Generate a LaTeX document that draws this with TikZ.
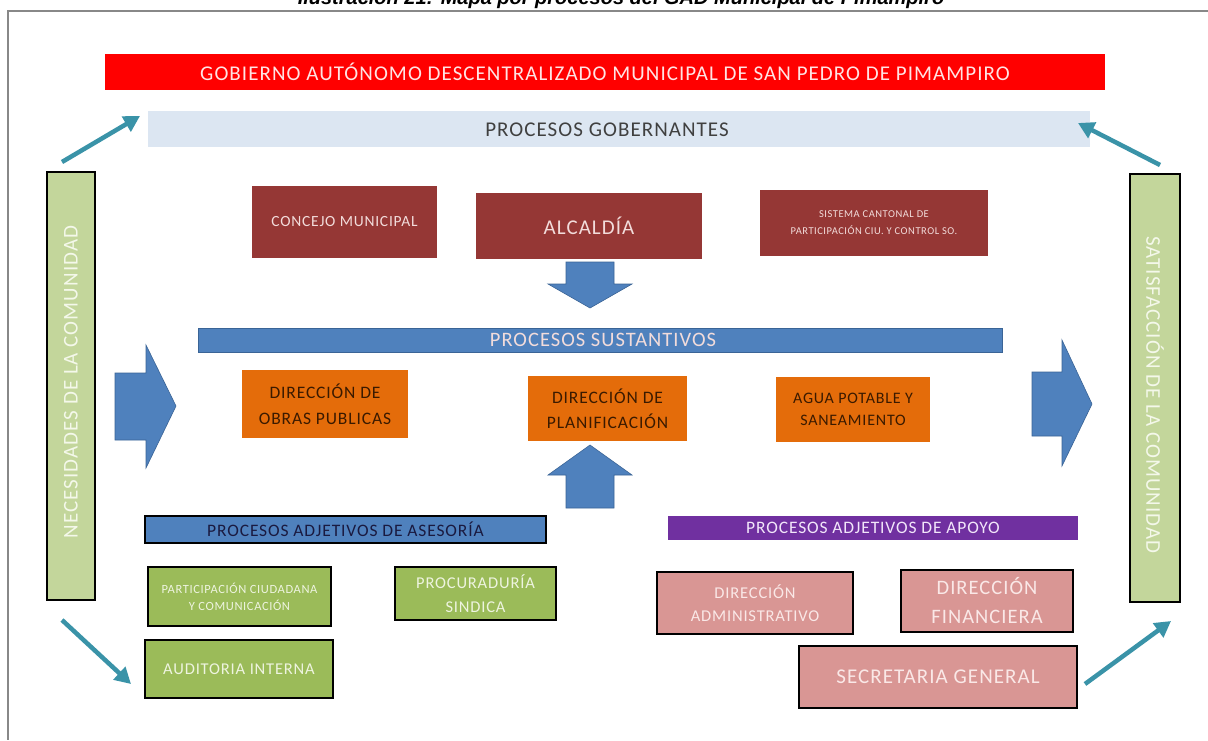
\documentclass[tikz,border=0pt]{standalone}
\usepackage{fontspec}
\setmainfont{Carlito}[LetterSpace=5]
\newfontfamily\titlefont{Liberation Sans}
\usetikzlibrary{arrows.meta}
\definecolor{bannerred}{HTML}{FF0000}
\definecolor{bannertxt}{HTML}{FFE4E4}
\definecolor{gobfill}{HTML}{DCE6F2}
\definecolor{gobtxt}{HTML}{404040}
\definecolor{darkred}{HTML}{953735}
\definecolor{darkredtxt}{HTML}{F2DCDB}
\definecolor{procblue}{HTML}{4F81BD}
\definecolor{procblueline}{HTML}{3A6496}
\definecolor{orangebox}{HTML}{E46C0A}
\definecolor{orangetxt}{HTML}{3A1A00}
\definecolor{greenbox}{HTML}{9BBB59}
\definecolor{greentxt}{HTML}{EEF4E0}
\definecolor{sidegreen}{HTML}{C3D69B}
\definecolor{sidetxt}{HTML}{F4F8EA}
\definecolor{purplebar}{HTML}{7030A0}
\definecolor{purpletxt}{HTML}{F2E6FA}
\definecolor{pinkbox}{HTML}{D99694}
\definecolor{pinktxt}{HTML}{FAE8E7}
\definecolor{teal}{HTML}{3A93A8}
\definecolor{framegray}{HTML}{888888}
\definecolor{navytxt}{HTML}{1A1A40}
\begin{document}
\begin{tikzpicture}[x=1pt,y=-1pt,
  box/.style={inner sep=0pt, align=center},
  redbanner/.style={box, fill=bannerred, text=bannertxt},
  gobbar/.style={box, fill=gobfill, text=gobtxt},
  redbox/.style={box, fill=darkred, text=darkredtxt},
  bluebar/.style={box, fill=procblue, draw=procblueline, line width=1pt, text=darkredtxt},
  orangebx/.style={box, fill=orangebox, text=orangetxt},
  greenbx/.style={box, fill=greenbox, draw=black, line width=1.5pt, text=greentxt},
  sidebar/.style={box, fill=sidegreen, draw=black, line width=1.5pt},
  pinkbx/.style={box, fill=pinkbox, draw=black, line width=1.5pt, text=pinktxt},
  purplebx/.style={box, fill=purplebar, text=purpletxt},
  bigarrow/.style={fill=procblue, draw=procblueline, line width=0.6pt},
  tealarrow/.style={draw=teal, line width=4.5pt, -{Triangle[length=16pt,width=17pt]}},
  framestyle/.style={draw=framegray, line width=2pt}
]
\useasboundingbox (0,0) rectangle (1208,740);
\fill[white] (0,0) rectangle (1208,740);
% caption (cut at the top, as in the reference)
\node[anchor=base, inner sep=0pt, font=\titlefont\bfseries\itshape\fontsize{20}{24}\selectfont] (caption) at (621,4) {Ilustración 21: Mapa por procesos del GAD Municipal de Pimampiro};
% frame
\draw[framestyle] (1208,11) -- (8,11) -- (8,740);

% banner and top bar
\node[redbanner, minimum width=1000pt, minimum height=36pt, font=\fontsize{21}{25}\selectfont] (banner) at (605,72) {GOBIERNO AUTÓNOMO DESCENTRALIZADO MUNICIPAL DE SAN PEDRO DE PIMAMPIRO};
\node[gobbar, minimum width=942pt, minimum height=36pt] (gob) at (619,129) {};
\node[box, text=gobtxt, font=\fontsize{21}{25}\selectfont] (gobtext) at (607,130) {PROCESOS GOBERNANTES};

% side bars
\node[sidebar, minimum width=48pt, minimum height=428pt] (nec) at (71,386) {};
\node[text=sidetxt, rotate=90, font=\fontsize{21}{25}\selectfont] (nectxt) at (71,382) {NECESIDADES DE LA COMUNIDAD};
\node[sidebar, minimum width=50pt, minimum height=428pt] (sat) at (1155,388) {};
\node[text=sidetxt, rotate=-90, font=\fontsize{21}{25}\selectfont] (sattxt) at (1155,395) {SATISFACCIÓN DE LA COMUNIDAD};

% governing boxes
\node[redbox, minimum width=185pt, minimum height=72pt, font=\fontsize{15.5}{18}\selectfont] (concejo) at (344.5,222) {CONCEJO MUNICIPAL};
\node[redbox, minimum width=226pt, minimum height=66pt, font=\fontsize{21}{25}\selectfont] (alcaldia) at (589,226) {ALCALDÍA};
\node[redbox, minimum width=228pt, minimum height=66pt, font=\fontsize{10.5}{17}\selectfont] (sistema) at (874,223) {SISTEMA CANTONAL DE\\PARTICIPACIÓN CIU. Y CONTROL SO.};

% down block arrow
\draw[bigarrow] (566,262) -- (614,262) -- (614,284) -- (632,284) -- (590,308) -- (548,284) -- (566,284) -- cycle;

% substantive
\node[bluebar, minimum width=804pt, minimum height=24pt] (sust) at (600,340) {};
\node[box, text=darkredtxt, font=\fontsize{20.5}{24}\selectfont] (susttext) at (603,340) {PROCESOS SUSTANTIVOS};
\node[orangebx, minimum width=166pt, minimum height=68pt, font=\fontsize{17.5}{26}\selectfont] (obras) at (325,404) {DIRECCIÓN DE\\OBRAS PUBLICAS};
\node[orangebx, minimum width=159pt, minimum height=65pt, font=\fontsize{17.5}{25}\selectfont] (planif) at (607.5,408.5) {DIRECCIÓN DE\\PLANIFICACIÓN};
\node[orangebx, minimum width=154pt, minimum height=65pt, font=\fontsize{16}{22}\selectfont] (agua) at (853,409.5) {AGUA POTABLE Y\\SANEAMIENTO};

% side block arrows
\draw[bigarrow] (115,373) -- (146,373) -- (146,345) -- (176,406) -- (146,468) -- (146,440) -- (115,440) -- cycle;
\draw[bigarrow] (1032,372) -- (1062,372) -- (1062,340) -- (1092,404) -- (1062,466) -- (1062,436) -- (1032,436) -- cycle;

% up block arrow
\draw[bigarrow] (566,508) -- (614,508) -- (614,475) -- (632,475) -- (590,445) -- (548,475) -- (566,475) -- cycle;

% adjective processes
\node[box, fill=procblue, draw=black, line width=1.5pt, text=navytxt, minimum width=401pt, minimum height=27pt, font=\fontsize{17.5}{21}\selectfont] (asesoria) at (345.5,529.5) {PROCESOS ADJETIVOS DE ASESORÍA};
\node[purplebx, minimum width=410pt, minimum height=24pt, font=\fontsize{17.5}{21}\selectfont] (apoyo) at (873,528) {PROCESOS ADJETIVOS DE APOYO};

\node[greenbx, minimum width=183pt, minimum height=59pt, font=\fontsize{12.5}{17}\selectfont] (partic) at (239.5,596.5) {PARTICIPACIÓN CIUDADANA\\Y COMUNICACIÓN};
\node[greenbx, minimum width=161pt, minimum height=53pt, font=\fontsize{16.5}{24}\selectfont] (procur) at (475.5,593.5) {PROCURADURÍA\\SINDICA};
\node[greenbx, minimum width=188pt, minimum height=58pt, font=\fontsize{16.5}{20}\selectfont] (audit) at (239,669) {AUDITORIA INTERNA};

\node[pinkbx, minimum width=196pt, minimum height=62pt, font=\fontsize{16.5}{23}\selectfont] (admin) at (755,603) {DIRECCIÓN\\ADMINISTRATIVO};
\node[pinkbx, minimum width=172pt, minimum height=62pt, font=\fontsize{20.5}{29}\selectfont] (finan) at (987,601) {DIRECCIÓN\\FINANCIERA};
\node[pinkbx, minimum width=278pt, minimum height=62pt, font=\fontsize{21}{25}\selectfont] (secre) at (938,677) {SECRETARIA GENERAL};

% teal connectors
\coordinate (a1s) at (62,162);
\coordinate (a1e) at (140,116);
\coordinate (a2s) at (1160,165);
\coordinate (a2e) at (1078,123);
\coordinate (a3s) at (62,620);
\coordinate (a3e) at (131,684);
\coordinate (a4s) at (1085,684);
\coordinate (a4e) at (1171,621);
\draw[tealarrow] (a1s) -- (a1e);
\draw[tealarrow] (a2s) -- (a2e);
\draw[tealarrow] (a3s) -- (a3e);
\draw[tealarrow] (a4s) -- (a4e);
\end{tikzpicture}
\end{document}
